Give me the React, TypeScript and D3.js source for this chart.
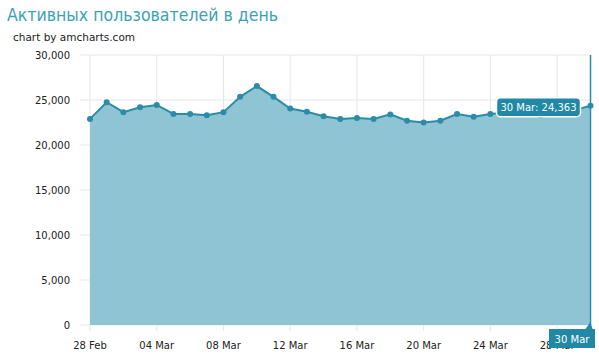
import React from "react";
import * as d3 from "d3";

const dates = [
  "2013-02-28", "2013-03-01", "2013-03-02", "2013-03-03", "2013-03-04", "2013-03-05",
  "2013-03-06", "2013-03-07", "2013-03-08", "2013-03-09", "2013-03-10", "2013-03-11",
  "2013-03-12", "2013-03-13", "2013-03-14", "2013-03-15", "2013-03-16", "2013-03-17",
  "2013-03-18", "2013-03-19", "2013-03-20", "2013-03-21", "2013-03-22", "2013-03-23",
  "2013-03-24", "2013-03-25", "2013-03-26", "2013-03-27", "2013-03-28", "2013-03-29",
  "2013-03-30",
];
const users = [
  22900, 24750, 23650, 24200, 24450, 23450,
  23450, 23300, 23650, 25350, 26550, 25350,
  24050, 23700, 23200, 22900, 23000, 22900,
  23400, 22700, 22500, 22700, 23450, 23150,
  23450, 23600, 23500, 23300, 23700, 23850,
  24363,
];
const xTickDates = ["2013-02-28", "2013-03-04", "2013-03-08", "2013-03-12", "2013-03-16", "2013-03-20", "2013-03-24", "2013-03-28"];
const xTickLabels = ["28 Feb", "04 Mar", "08 Mar", "12 Mar", "16 Mar", "20 Mar", "24 Mar", "28 Mar"];
const yTicks = [0, 5000, 10000, 15000, 20000, 25000, 30000];
const titleText = "Активных пользователей в день";
const creditText = "chart by amcharts.com";
const cursorIndex = 30;

const W = 599;
const H = 356;
const left = 90;
const right = 590.5;
const top = 55;
const bottom = 325;

const FONT = "'DejaVu Sans', Verdana, sans-serif";
const LINE = "#2a8ca8";
const FILL = "#8fc4d5";
const BALLOON = "#2189a6";

export default function App() {
  const parse = (s: string) => new Date(s + "T00:00:00Z");
  const data = dates.map((d, i) => ({ date: parse(d), value: users[i] }));
  const x = d3.scaleUtc().domain([data[0].date, data[data.length - 1].date]).range([left, right]);
  const y = d3.scaleLinear().domain([0, 30000]).range([bottom, top]);
  const area = d3.area<any>().x((d) => x(d.date)).y0(y(0)).y1((d) => y(d.value))(data) as string;
  const line = d3.line<any>().x((d) => x(d.date)).y((d) => y(d.value))(data) as string;
  const fmt = d3.format(",");

  const cur = data[cursorIndex];
  const cx = x(cur.date);
  const cy = y(cur.value);
  const tipText = `30 Mar: ${fmt(cur.value)}`;
  const tipW = 84;
  const tipH = 19;
  const tipX = cx - 10 - tipW;
  const tipY = cy - 8;

  return (
    <svg width={W} height={H} style={{ position: "absolute", left: 0, top: 0, background: "#fff" }}>
      <text x={7} y={21} fontFamily={FONT} fontSize={17} fill="#3aa2b6" textLength={271} lengthAdjust="spacingAndGlyphs">{titleText}</text>
      <text x={13} y={41} fontFamily={FONT} fontSize={10.5} fill="#222">{creditText}</text>

      {yTicks.map((t) => (
        <g key={t}>
          <line x1={80} x2={right} y1={y(t)} y2={y(t)} stroke="#e6e6e6" strokeWidth={1} />
          <text x={70} y={y(t) + 4} textAnchor="end" fontFamily={FONT} fontSize={10} fill="#222">
            {fmt(t)}
          </text>
        </g>
      ))}
      {xTickDates.map((d, i) => (
        <g key={d}>
          <line x1={x(parse(d))} x2={x(parse(d))} y1={top} y2={bottom + 6} stroke="#e6e6e6" strokeWidth={1} />
          <text x={x(parse(d))} y={349} textAnchor="middle" fontFamily={FONT} fontSize={10} fill="#222">
            {xTickLabels[i]}
          </text>
        </g>
      ))}

      <path d={area} fill={FILL} />
      <path d={line} fill="none" stroke={LINE} strokeWidth={2} />
      {data.map((d, i) => (
        <circle key={i} cx={x(d.date)} cy={y(d.value)} r={3} fill={LINE} />
      ))}

      <line x1={cx} x2={cx} y1={top} y2={bottom} stroke={LINE} strokeWidth={1.5} />

      <g>
        <rect x={tipX} y={tipY} width={tipW} height={tipH} rx={4} fill={BALLOON} stroke="#fff" strokeWidth={1.5} />
        <text x={tipX + tipW / 2} y={tipY + 13} textAnchor="middle" fontFamily={FONT} fontSize={10} fill="#fff">
          {tipText}
        </text>
      </g>

      <g>
        <path d={`M${cx - 5},329 L${cx},322 L${cx + 2},329 Z`} fill={BALLOON} />
        <rect x={549} y={329} width={46} height={19} fill={BALLOON} />
        <text x={572} y={343} textAnchor="middle" fontFamily={FONT} fontSize={10} fill="#fff">30 Mar</text>
      </g>
    </svg>
  );
}
